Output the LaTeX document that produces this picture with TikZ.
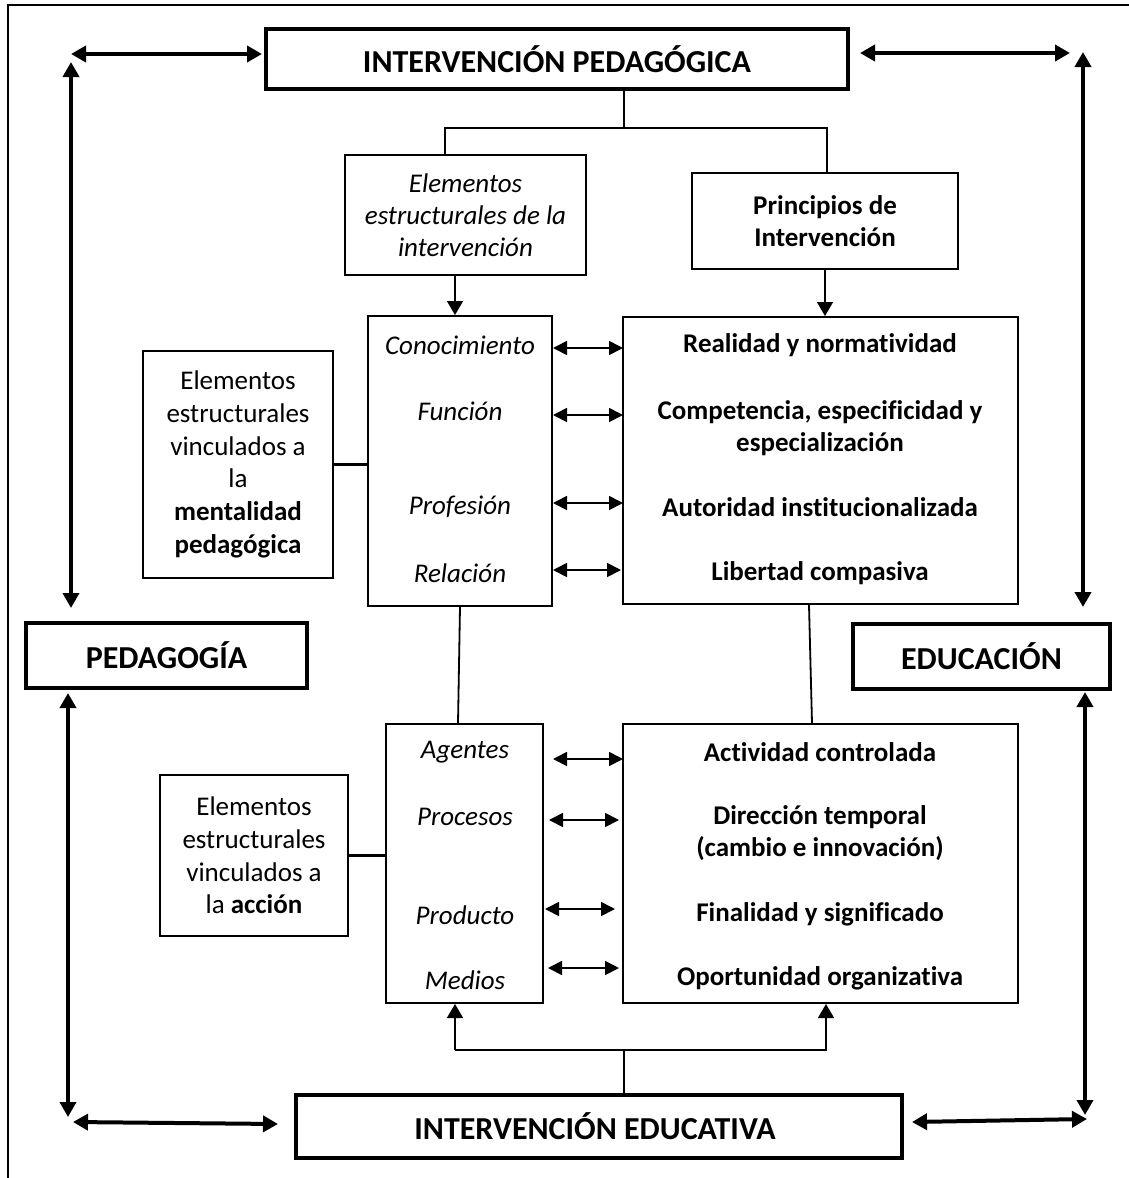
\documentclass[tikz,border=0pt]{standalone}
\usepackage{fontspec}
\setmainfont{Carlito}[Ligatures=NoCommon]
\usetikzlibrary{arrows.meta}
\begin{document}
\begin{tikzpicture}[x=1pt,y=-1pt,
  bigbox/.style={draw, line width=4pt, inner sep=0pt, font=\fontsize{32}{38}\selectfont\bfseries},
  midbox/.style={draw, line width=2pt, inner sep=0pt},
  smallbox/.style={draw, line width=1.6pt, inner sep=0pt, align=center, font=\fontsize{27}{32.7}\selectfont},
  txt/.style={inner sep=0pt, align=center, font=\fontsize{27}{32.7}\selectfont},
  itxt/.style={txt, font=\fontsize{27}{32.7}\selectfont\itshape},
  btxt/.style={txt, font=\fontsize{27}{32.7}\selectfont\bfseries},
  bigarrow/.style={line width=4pt, {Triangle[width=16pt,length=15pt]}-{Triangle[width=16pt,length=15pt]}},
  dblarrow/.style={line width=1.7pt, {Triangle[width=14pt,length=14pt]}-{Triangle[width=14pt,length=14pt]}},
  downarrow/.style={line width=1.6pt, -{Triangle[width=16pt,length=14pt]}},
  link/.style={line width=1.8pt},
  thicklink/.style={line width=3.5pt}
]
\useasboundingbox (0,0) rectangle (1129,1178);
% outer frame
\draw[line width=2pt] (8,1178) -- (8,5) -- (1129,5);

% main boxes
\node[bigbox, minimum width=582pt, minimum height=60pt] (ip) at (557,59) {INTERVENCIÓN PEDAGÓGICA};
\node[bigbox, minimum width=281pt, minimum height=65pt] (ped) at (166.5,655.5) {PEDAGOGÍA};
\node[bigbox, minimum width=257pt, minimum height=65pt] (edu) at (981.5,656.5) {EDUCACIÓN};
\node[bigbox, minimum width=606pt, minimum height=63pt] (ie) at (599,1126.5) {\hspace*{-8pt}INTERVENCIÓN EDUCATIVA};

% upper small boxes
\node[smallbox, minimum width=241pt, minimum height=120pt, font=\fontsize{27}{32}\selectfont\itshape] (eei) at (465.5,215) {Elementos\\estructurales de la\\intervención};
\node[smallbox, minimum width=266pt, minimum height=96pt, font=\fontsize{27}{32}\selectfont\bfseries] (pri) at (825,221) {Principios de\\Intervención};

% middle boxes
\node[midbox, minimum width=184pt, minimum height=290pt] (lk) at (460,461) {};
\node[midbox, minimum width=395pt, minimum height=287pt] (rk) at (820.5,460.5) {};
\node[smallbox, minimum width=190pt, minimum height=227pt] (men) at (238,464.5) {Elementos\\estructurales\\vinculados a\\la\\\textbf{mentalidad}\\\textbf{pedagógica}};

\node[itxt] (k1) at (460,345) {Conocimiento};
\node[itxt] (k2) at (460,411) {Función};
\node[itxt] (k3) at (460,507) {Profesión};
\node[itxt] (k4) at (460,573) {Relación};

\node[btxt] (r1) at (820,345) {Realidad y normatividad};
\node[btxt] (r2) at (820,428) {Competencia, especificidad y\\especialización};
\node[btxt] (r3) at (820,507) {Autoridad institucionalizada};
\node[btxt] (r4) at (820,573) {Libertad compasiva};

% lower boxes
\node[midbox, minimum width=157pt, minimum height=279pt] (la) at (464.5,863.5) {};
\node[midbox, minimum width=395pt, minimum height=279pt] (ra) at (820.5,863.5) {};
\node[smallbox, minimum width=188pt, minimum height=161pt] (acc) at (254,855.5) {Elementos\\estructurales\\vinculados a\\la \textbf{acción}};

\node[itxt] (a1) at (465,752) {Agentes};
\node[itxt] (a2) at (465,817) {Procesos};
\node[itxt] (a3) at (465,915) {Producto};
\node[itxt] (a4) at (465,980) {Medios};

\node[btxt] (b1) at (820,752) {Actividad controlada};
\node[btxt] (b2) at (820,833) {Dirección temporal\\(cambio e innovación)};
\node[btxt] (b3) at (820,914) {Finalidad y significado};
\node[btxt] (b4) at (820,978) {Oportunidad organizativa};

% top tree connector
\coordinate (tj) at (624,128);
\draw[link] (624,89) -- (tj);
\draw[link] (eei.north -| 445,0) -- (445,128) -- (827,128) -- (pri.north -| 827,0);
\draw[downarrow] (eei.south -| 455,0) -- (lk.north -| 455,0);
\draw[downarrow] (pri.south) -- (rk.north -| 825,0);

% side links
\draw[thicklink] (men.east) -- (lk.west |- men.east);
\draw[thicklink] (acc.east) -- (la.west |- acc.east);

% double arrows upper
\draw[dblarrow] (553,348) -- (623,348);
\draw[dblarrow] (553,415) -- (623,415);
\draw[dblarrow] (553,503) -- (623,503);
\draw[dblarrow] (553,570) -- (621,570);
% double arrows lower
\draw[dblarrow] (553,759) -- (623,759);
\draw[dblarrow] (549,820) -- (619,820);
\draw[dblarrow] (545,909) -- (615,909);
\draw[dblarrow] (548,968) -- (619,968);

% vertical links between upper and lower
\draw[link] (lk.south -| 460,0) -- (la.north -| 458,0);
\draw[link] (rk.south -| 809,0) -- (ra.north -| 812,0);

% bottom connector
\draw[link] (ie.north -| 624,0) -- (624,1050);
\draw[downarrow] (455,1050) -- (la.south -| 455,0);
\draw[downarrow] (624,1050) -- (826,1050) -- (ra.south -| 826,0);
\draw[link] (624,1050) -- (455,1050);

% big outer arrows
\draw[bigarrow] (71,54) -- (262,54);
\draw[bigarrow] (71,62) -- (71,608);
\draw[bigarrow] (860,53) -- (1070,53);
\draw[bigarrow] (1083,52) -- (1083,607);
\draw[bigarrow] (68,693) -- (68,1117);
\draw[bigarrow] (73,1122) -- (278,1124);
\draw[bigarrow] (912,1122) -- (1087,1119);
\draw[bigarrow] (1085,692) -- (1085,1115);
\end{tikzpicture}
\end{document}
